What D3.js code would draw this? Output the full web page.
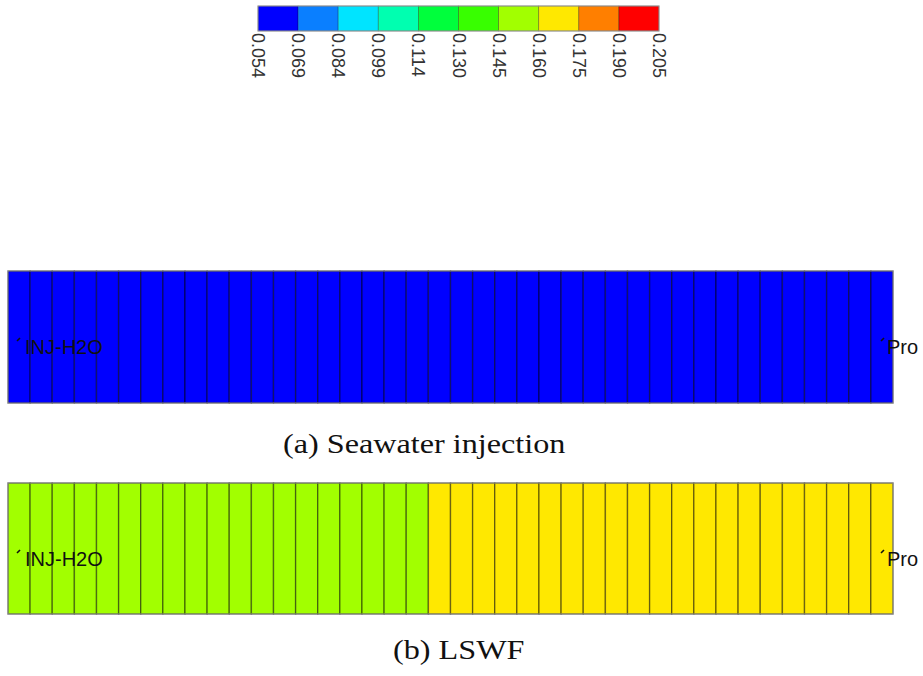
<!DOCTYPE html>
<html><head><meta charset="utf-8">
<script src="https://cdn.jsdelivr.net/npm/d3@7"></script>
<style>html,body{margin:0;padding:0;background:#fff;}svg{display:block;}</style>
</head><body>
<svg id="chart" width="923" height="676"></svg>
<script>
// ---- data ----
const tickLabels = ["0.054","0.069","0.084","0.099","0.114","0.130","0.145","0.160","0.175","0.190","0.205"];
const binColors = ["#0000FF","#0A7FFF","#00E4FF","#00FFB0","#00FF3C","#38FF00","#A2FF00","#FFE800","#FF7F00","#FF0000"];
const seawaterCells = [0.060,0.060,0.060,0.060,0.060,0.060,0.060,0.060,0.060,0.060,
                       0.060,0.060,0.060,0.060,0.060,0.060,0.060,0.060,0.060,0.060,
                       0.060,0.060,0.060,0.060,0.060,0.060,0.060,0.060,0.060,0.060,
                       0.060,0.060,0.060,0.060,0.060,0.060,0.060,0.060,0.060,0.060];
const lswfCells = [0.152,0.152,0.152,0.152,0.152,0.152,0.152,0.152,0.152,0.152,
                   0.152,0.152,0.152,0.152,0.152,0.152,0.152,0.152,0.152,0.168,
                   0.168,0.168,0.168,0.168,0.168,0.168,0.168,0.168,0.168,0.168,
                   0.168,0.168,0.168,0.168,0.168,0.168,0.168,0.168,0.168,0.168];
const wellLabels = ["INJ-H2O","Pro"];
const captions = ["(a) Seawater injection","(b) LSWF"];

// ---- drawing ----
const svg = d3.select("#chart");
const thresholds = tickLabels.slice(1, -1).map(Number);
const color = d3.scaleThreshold().domain(thresholds).range(binColors);

// colorbar
const cb = d3.scalePoint().domain(tickLabels).range([258, 659]);
const cbTop = 6, cbH = 25;
const cbG = svg.append("g");
cbG.selectAll("rect.bin").data(binColors).join("rect")
  .attr("x", (d,i) => cb(tickLabels[i]))
  .attr("y", cbTop)
  .attr("width", (d,i) => cb(tickLabels[i+1]) - cb(tickLabels[i]))
  .attr("height", cbH)
  .attr("fill", d => d)
  .attr("stroke", "rgba(0,0,0,0.35)").attr("stroke-width", 0.8);
cbG.append("rect").attr("x", cb(tickLabels[0])).attr("y", cbTop)
  .attr("width", cb(tickLabels[tickLabels.length-1]) - cb(tickLabels[0])).attr("height", cbH)
  .attr("fill","none").attr("stroke","#9a9a9a").attr("stroke-width",1);
cbG.selectAll("text").data(tickLabels).join("text")
  .attr("transform", d => `translate(${cb(d)},${cbTop + cbH + 2}) rotate(90)`)
  .attr("dominant-baseline","central")
  .attr("font-family","Liberation Sans, Arial, sans-serif")
  .attr("font-size", 18)
  .attr("fill","#333")
  .text(d => d);

// panels
const x = d3.scaleBand().domain(d3.range(seawaterCells.length)).range([8, 893]);
const panels = [
  {cells: seawaterCells, y0: 271, y1: 403, labelY: 354, capX: 283, capY: 453},
  {cells: lswfCells, y0: 483, y1: 614, labelY: 566, capX: 393, capY: 659}
];
panels.forEach((p, pi) => {
  const g = svg.append("g");
  g.selectAll("rect.cell").data(p.cells).join("rect")
    .attr("x", (d,i) => x(i)).attr("y", p.y0)
    .attr("width", x.bandwidth()).attr("height", p.y1 - p.y0)
    .attr("fill", d => color(d))
    .attr("stroke", "rgba(0,0,0,0.45)").attr("stroke-width", 1.4);
  g.append("rect").attr("x", x.range()[0]).attr("y", p.y0)
    .attr("width", x.range()[1] - x.range()[0]).attr("height", p.y1 - p.y0)
    .attr("fill","none").attr("stroke","#8a8a8a").attr("stroke-width",1);
  // well markers
  const wells = [{name: wellLabels[0], mx: x(0) + 9, tx: x(0) + 17},
                 {name: wellLabels[1], mx: x(p.cells.length-1) + x.bandwidth() - 12, tx: x(p.cells.length-1) + x.bandwidth() - 6}];
  wells.forEach(w => {
    g.append("line").attr("x1", w.mx).attr("y1", p.labelY - 13).attr("x2", w.mx + 3).attr("y2", p.labelY - 16)
      .attr("stroke","#111").attr("stroke-width",1.6);
    g.append("text").attr("x", w.tx).attr("y", p.labelY)
      .attr("font-family","Liberation Sans, Arial, sans-serif")
      .attr("font-size", 20).attr("fill","#111")
      .text(w.name);
  });
  svg.append("text")
    .attr("transform", `translate(${p.capX},${p.capY}) scale(1.15,1)`)
    .attr("font-family","Liberation Serif, Times New Roman, serif")
    .attr("font-size", 28).attr("fill","#111")
    .text(captions[pi]);
});
</script>
</body></html>
